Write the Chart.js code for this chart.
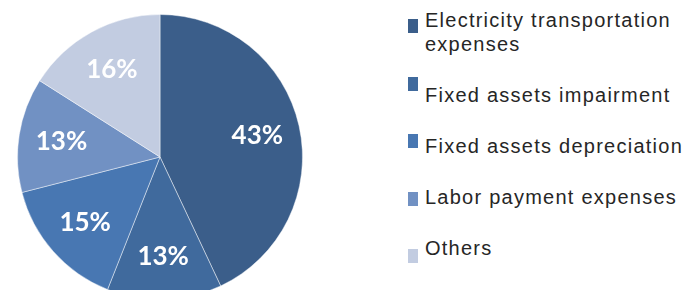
<!DOCTYPE html>
<html>
<head>
<meta charset="utf-8">
<script src="https://cdn.jsdelivr.net/npm/chart.js@4"></script>
<style>
  html, body { margin: 0; padding: 0; background: #fff; overflow: hidden; }
  body { width: 683px; height: 290px; position: relative; }
  #pie { position: absolute; left: 17px; top: 14px; }
  #legend { position: absolute; left: 0; top: 0; font-family: "Liberation Sans", Arial, sans-serif; font-size: 20px; color: #262626; letter-spacing: 1.25px; }
  .sw { position: absolute; left: 408px; width: 10px; height: 14px; }
  .lbl { position: absolute; left: 425px; line-height: 24px; white-space: nowrap; }
</style>
</head>
<body>
<canvas id="pie" width="286" height="286"></canvas>
<div id="legend"></div>
<script>
// dados do gráfico
const categories = [
  ['Electricity transportation', 'expenses'],
  ['Fixed assets impairment'],
  ['Fixed assets depreciation'],
  ['Labor payment expenses'],
  ['Others']
];
const shares = [43, 13, 15, 13, 16];
const sliceColors = ['#3B5E8A', '#406A9D', '#4877B2', '#7191C3', '#C2CCE1'];

// legenda em HTML
const legend = document.getElementById('legend');
categories.forEach((lines, i) => {
  const sw = document.createElement('div');
  sw.className = 'sw';
  sw.style.top = (19 + 57.5 * i) + 'px';
  sw.style.background = sliceColors[i];
  legend.appendChild(sw);

  const lbl = document.createElement('div');
  lbl.className = 'lbl';
  lbl.style.top = (i === 0 ? 8 : 83 + 51 * (i - 1)) + 'px';
  lbl.innerHTML = lines.join('<br>');
  legend.appendChild(lbl);
});

// rótulos de porcentagem dentro das fatias
const sliceLabels = {
  id: 'sliceLabels',
  afterDatasetsDraw(chart) {
    const ctx = chart.ctx;
    const meta = chart.getDatasetMeta(0);
    ctx.save();
    ctx.fillStyle = '#fff';
    ctx.font = 'bold 26px Lato, "Open Sans", sans-serif';
    ctx.textAlign = 'center';
    ctx.textBaseline = 'middle';
    meta.data.forEach((arc, i) => {
      const p = arc.getProps(['x', 'y', 'startAngle', 'endAngle', 'outerRadius'], true);
      const mid = (p.startAngle + p.endAngle) / 2;
      const r = p.outerRadius * 0.7;
      ctx.fillText(shares[i] + '%', p.x + Math.cos(mid) * r, p.y + Math.sin(mid) * r);
    });
    ctx.restore();
  }
};

new Chart(document.getElementById('pie'), {
  type: 'pie',
  data: {
    labels: categories.map(l => l.join(' ')),
    datasets: [{
      data: shares,
      backgroundColor: sliceColors,
      borderColor: 'rgba(255,255,255,0.45)',
      borderWidth: 1
    }]
  },
  options: {
    responsive: false,
    animation: false,
    layout: { padding: 0 },
    plugins: {
      legend: { display: false },
      tooltip: { enabled: false }
    }
  },
  plugins: [sliceLabels]
});
</script>
</body>
</html>
